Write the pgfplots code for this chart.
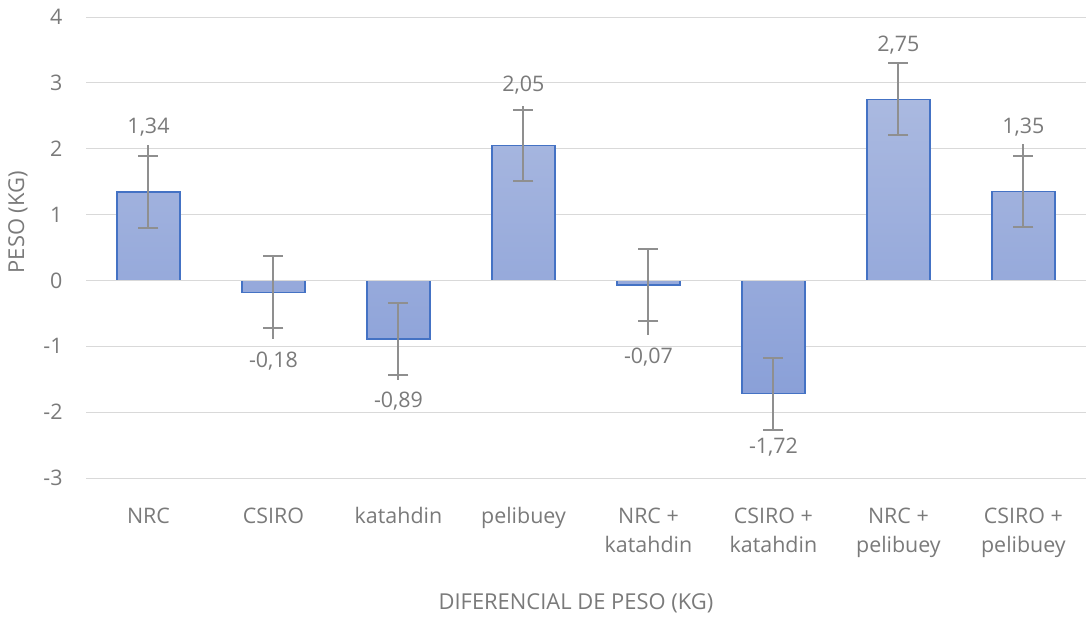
\documentclass[border=0pt]{standalone}
\usepackage{pgfplots}
\pgfplotsset{compat=1.18}
\usepackage{pgfplotstable}
\usepackage{fontspec}
\setmainfont{Open Sans}
\definecolor{txt}{HTML}{7A7A7A}
\definecolor{gridc}{HTML}{D9D9D9}
\definecolor{barb}{HTML}{4472C4}
\definecolor{bartop}{HTML}{AAB9E0}
\definecolor{barbot}{HTML}{8AA0D8}
\definecolor{errc}{HTML}{8F8F8F}
\pgfplotstableread{
x y
0 1.34
1 -0.18
2 -0.89
3 2.05
4 -0.07
5 -1.72
6 2.75
7 1.35
}\bars
\pgfplotstableread{
x y e
0 1.34 0.545
1 -0.18 0.545
2 -0.89 0.545
3 2.05 0.545
4 -0.07 0.545
5 -1.72 0.545
6 2.75 0.545
7 1.35 0.545
}\errs
\pgfplotstableread{
x y e
0 1.34 0.71
3 2.05 0.605
7 1.35 0.725
}\extp
\pgfplotstableread{
x y e
1 -0.18 0.715
2 -0.89 0.625
4 -0.07 0.755
}\extm
\pgfplotstableread{
x ly lab
0 2.33 1,34
1 -1.22 -0,18
2 -1.84 -0,89
3 2.97 2,05
4 -1.16 -0,07
5 -2.53 -1,72
6 3.57 2,75
7 2.33 1,35
}\labs
\begin{document}
\fontsize{22}{26}\selectfont
\begin{tikzpicture}
\path[use as bounding box] (0,0) rectangle (1086bp,618bp);
\begin{axis}[
  at={(86bp,140bp)}, anchor=south west,
  scale only axis, width=1000bp, height=461bp,
  xmin=-0.5, xmax=7.5, ymin=-3, ymax=4,
  axis line style={draw=none},
  ytick={-3,...,4},
  ymajorgrids, grid style={gridc, line width=1bp},
  major tick length=0pt,
  xtick={0,...,7},
  xticklabels={NRC, CSIRO, katahdin, pelibuey, {NRC +\\katahdin}, {CSIRO +\\katahdin}, {NRC +\\pelibuey}, {CSIRO +\\pelibuey}},
  xticklabel style={align=center, text=txt, font=\fontsize{21.5}{30}\selectfont, anchor=north, yshift=-22bp},
  yticklabel style={text=txt, font=\fontsize{21.5}{26}\selectfont, xshift=-16bp},
  /pgf/number format/assume math mode=true,
  xlabel={DIFERENCIAL DE PESO (KG)},
  ylabel={PESO (KG)},
  label style={text=txt, font=\fontsize{22}{26}\selectfont},
  xlabel style={at={(axis description cs:0.49,-0.271)}, anchor=center},
  ylabel style={at={(axis description cs:-0.068,0.555)}, anchor=center},
  clip=false,
]
\addplot[ybar, bar width=0.505, draw=barb, line width=1.5bp, top color=bartop, bottom color=barbot] table[x=x,y=y] {\bars};
\addplot[gridc, line width=1bp] coordinates {(-0.5,0) (7.5,0)};
\addplot[draw=none, mark=none, forget plot,
  error bars/.cd, y dir=plus, y explicit, error mark=none,
  error bar style={draw=errc, line width=2bp}]
  table[x=x, y=y, y error=e] {\extp};
\addplot[draw=none, mark=none, forget plot,
  error bars/.cd, y dir=minus, y explicit, error mark=none,
  error bar style={draw=errc, line width=2bp}]
  table[x=x, y=y, y error=e] {\extm};
\addplot[draw=none, mark=none, forget plot,
  error bars/.cd, y dir=both, y explicit, error mark=-,
  error bar style={draw=errc, line width=2bp},
  error mark options={rotate=90, draw=errc, line width=2bp, mark size=10bp}]
  table[x=x, y=y, y error=e] {\errs};
\addplot[draw=none, mark=none, point meta=explicit symbolic,
  nodes near coords, nodes near coords style={anchor=center, text=txt, font=\fontsize{21.5}{26}\selectfont}]
  table[x=x, y=ly, meta=lab] {\labs};
\end{axis}
\end{tikzpicture}
\end{document}
